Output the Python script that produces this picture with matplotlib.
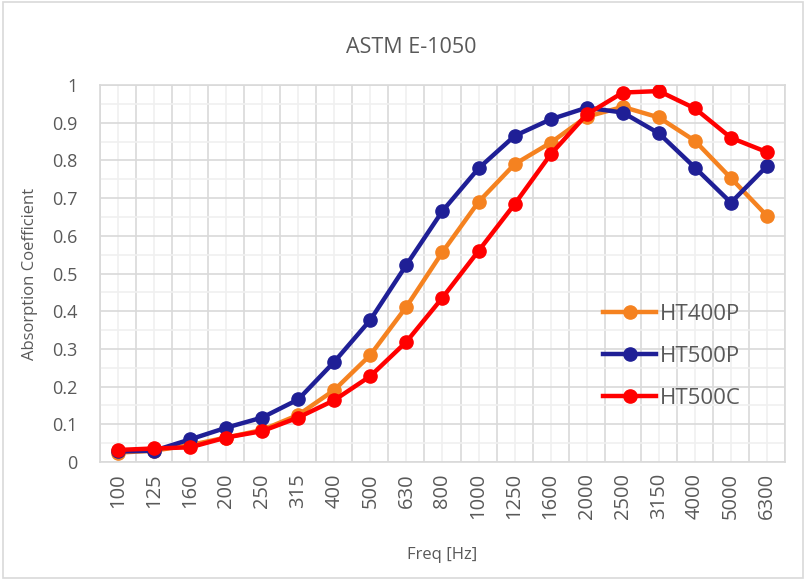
import numpy as np
import matplotlib.pyplot as plt
from matplotlib.patches import Rectangle

plt.rcParams['font.family'] = ['Open Sans', 'DejaVu Sans']

freqs = ['100', '125', '160', '200', '250', '315', '400', '500', '630', '800',
         '1000', '1250', '1600', '2000', '2500', '3150', '4000', '5000', '6300']
ht400p = [0.025, 0.030, 0.045, 0.065, 0.085, 0.125, 0.191, 0.284, 0.412, 0.557,
          0.690, 0.790, 0.847, 0.916, 0.942, 0.914, 0.852, 0.753, 0.653]
ht500p = [0.028, 0.030, 0.060, 0.091, 0.118, 0.166, 0.266, 0.377, 0.523, 0.666,
          0.779, 0.865, 0.909, 0.940, 0.927, 0.872, 0.781, 0.688, 0.785]
ht500c = [0.032, 0.036, 0.039, 0.065, 0.082, 0.118, 0.164, 0.228, 0.319, 0.436,
          0.560, 0.684, 0.816, 0.922, 0.980, 0.984, 0.938, 0.860, 0.822]

series = [('HT400P', ht400p, '#f58220'),
          ('HT500P', ht500p, '#1f1f96'),
          ('HT500C', ht500c, '#ff0000')]

fig = plt.figure(figsize=(8.06, 5.8), dpi=100)
ax = fig.add_axes([0.124, 0.2034, 0.85, 0.65])

x = np.arange(len(freqs))
for name, vals, col in series:
    ax.plot(x, vals, color=col, lw=3.2, marker='o', ms=9.5, label=name, zorder=3)

ax.set_xlim(-0.5, len(freqs) - 0.5)
ax.set_ylim(0, 1)
ax.set_xticks(x)
ax.set_xticklabels(freqs, rotation=90, fontsize=14.5, color='#595959')
ax.set_xticks(np.arange(-0.5, len(freqs)), minor=True)
ax.set_yticks(np.arange(0, 1.01, 0.1))
ax.set_yticklabels(['0', '0.1', '0.2', '0.3', '0.4', '0.5', '0.6', '0.7', '0.8', '0.9', '1'],
                   fontsize=13, color='#595959')
ax.set_yticks(np.arange(0.05, 1, 0.1), minor=True)
ax.tick_params(which='both', length=0)
ax.tick_params(axis='y', pad=16)
ax.tick_params(axis='x', pad=8)

ax.grid(axis='x', which='major', color='#f0f0f0', lw=1.2)
ax.grid(axis='x', which='minor', color='#d9d9d9', lw=1.2)
ax.grid(axis='y', which='major', color='#d9d9d9', lw=1.2)
ax.grid(axis='y', which='minor', color='#f0f0f0', lw=1.2)
ax.set_axisbelow(True)
for s in ax.spines.values():
    s.set_color('#d9d9d9')
    s.set_linewidth(1.2)

fig.text(0.51, 0.918, 'ASTM E-1050', fontsize=15.5, color='#595959', ha='center', va='center')
ax.set_ylabel('Absorption Coefficient', fontsize=12, color='#595959', labelpad=10)
ax.set_xlabel('Freq [Hz]', fontsize=12, color='#595959', labelpad=20)

leg = ax.legend(loc='center left', bbox_to_anchor=(0.705, 0.155, 0.3, 0.25), frameon=False,
                fontsize=16, labelcolor='#595959', handlelength=2.4, handletextpad=0.15,
                labelspacing=0.95)

fig.patches.append(Rectangle((0.004, 0.004), 0.992, 0.992, transform=fig.transFigure,
                             fill=False, edgecolor='#d9d9d9', lw=1.2))

fig.savefig('out.png', dpi=100)
